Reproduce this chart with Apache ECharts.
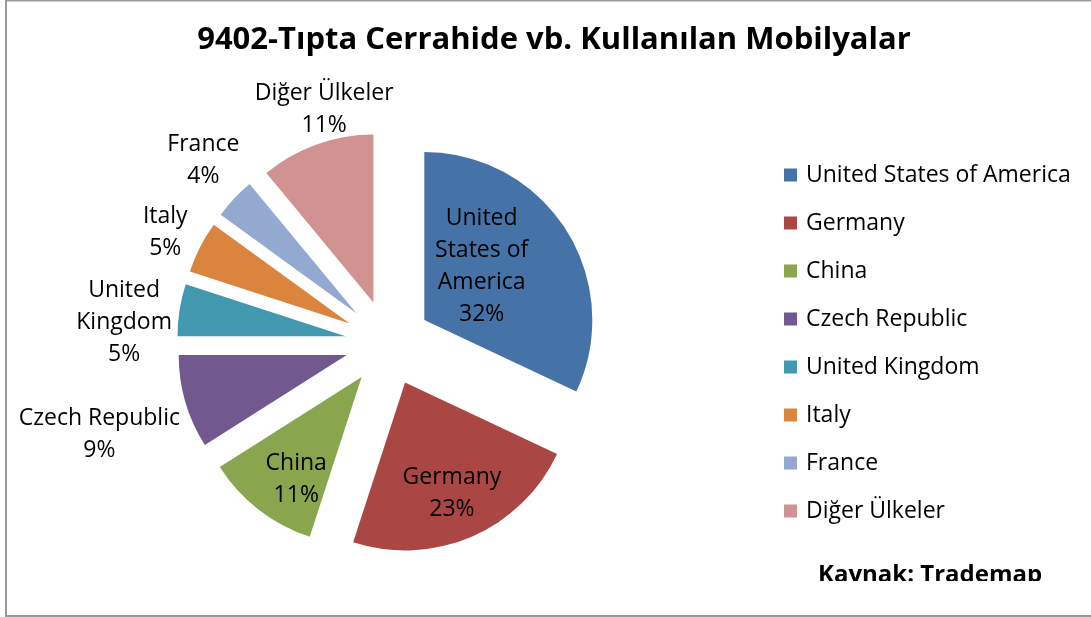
<!DOCTYPE html>
<html>
<head>
<meta charset="utf-8">
<script src="https://cdn.jsdelivr.net/npm/echarts@6/dist/echarts.min.js"></script>
<style>
html,body{margin:0;padding:0;background:#fff;}
#chart{width:1091px;height:617px;}
</style>
</head>
<body>
<div id="chart"></div>
<script>
// ---- data ----
var categories = ['United States of America','Germany','China','Czech Republic','United Kingdom','Italy','France','Diğer Ülkeler'];
var labelNames = ['United\nStates of\nAmerica','Germany','China','Czech Republic','United\nKingdom','Italy','France','Diğer Ülkeler'];
var shares = [32, 23, 11, 9, 5, 5, 4, 11];
var colors = ['#4572A7','#AA4643','#89A54E','#71588F','#4198AF','#DB843D','#93A9CF','#D19392'];
var titleText = '9402-Tıpta Cerrahide vb. Kullanılan Mobilyalar';
var sourceText = 'Kaynak: Trademap';

// ---- layout / style ----
var CX = 388, CY = 343, R = 168, EXPLODE = 43;
// label placement: [distance from pie centre, angle tweak in degrees]
var labelPlace = [[123,-8],[161,0],[162,-3.3],[302,-0.9],[265,-3.8],[250,0],[262,2],[245,4.7]];
var LABEL_DY = 3;
var FONT = 'Open Sans';

var total = shares.reduce(function(a,b){return a+b;},0);
function midAngle(i){
  var c = 0;
  for (var k=0;k<i;k++) c += shares[k];
  return (c + shares[i]/2) / total * 360;
}

var labelGraphics = categories.map(function(n,i){
  var a = (midAngle(i) + labelPlace[i][1]) * Math.PI/180;
  var d = labelPlace[i][0];
  var pct = Math.round(shares[i]/total*100);
  return {
    type:'text', z:5,
    x: CX + d*Math.sin(a), y: CY - d*Math.cos(a) + LABEL_DY,
    style:{text: labelNames[i] + '\n' + pct + '%', fill:'#000',
      font:'23px "'+FONT+'"', lineHeight:32, align:'center', verticalAlign:'middle'}
  };
});

var chart = echarts.init(document.getElementById('chart'), null, {renderer:'canvas'});
var option = {
  animation:false,
  backgroundColor:'#fff',
  color: colors,
  title:{
    text:titleText, left:554, top:18, textAlign:'center', padding:0,
    textStyle:{fontFamily:FONT, fontWeight:'bold', fontSize:31, color:'#000', lineHeight:44}
  },
  legend:{
    orient:'vertical', left:784, top:162, padding:0,
    icon:'rect', itemWidth:13, itemHeight:13, itemGap:22,
    selectedMode:false,
    textStyle:{fontFamily:FONT, fontSize:23, color:'#000', lineHeight:26, padding:[0,0,0,4]},
    data:categories
  },
  series:[{
    type:'pie',
    center:[CX,CY], radius:R,
    startAngle:90, clockwise:true,
    selectedMode:'multiple', selectedOffset:EXPLODE,
    emphasis:{disabled:true},
    itemStyle:{borderWidth:0},
    label:{show:false},
    labelLine:{show:false},
    data: categories.map(function(n,i){ return {name:n, value:shares[i], selected:true}; })
  }],
  graphic: labelGraphics.concat([
    {type:'text', left:818, top:563, z:10,
     style:{text:sourceText, font:'bold 24px "'+FONT+'"', fill:'#000'}},
    {type:'rect', z:20, shape:{x:760, y:581, width:331, height:34}, style:{fill:'#fff'}},
    {type:'rect', z:30, shape:{x:6, y:0.5, width:1200, height:615.5}, style:{fill:'none', stroke:'#9a9a9a', lineWidth:2}}
  ])
};
chart.setOption(option);
</script>
</body>
</html>
